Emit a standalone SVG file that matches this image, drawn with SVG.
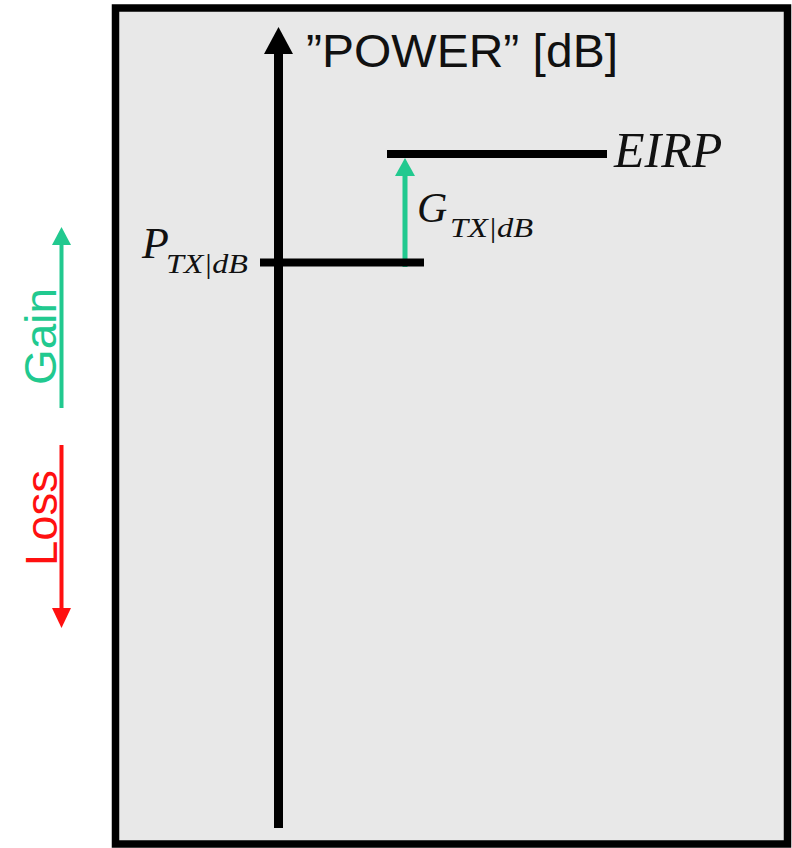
<svg xmlns="http://www.w3.org/2000/svg" width="792" height="848" viewBox="0 0 792 848">
<style>
.ax{font-family:"Liberation Sans",Arial,sans-serif}
.m{font-family:"Liberation Serif","Times New Roman",serif;font-style:italic;fill:#111}
.blk{stroke:#000;stroke-width:8;fill:none}
.gr{stroke:#21c98f}
.rd{stroke:#ff1010}
</style>
<rect width="792" height="848" fill="#fff"/>
<rect id="frame" x="115.5" y="8" width="672" height="836" fill="#e8e8e8" stroke="#000" stroke-width="7.5"/>
<g id="connectors">
<line x1="278.5" y1="828" x2="278.5" y2="50" stroke="#000" stroke-width="9"/>
<path d="M278.5 27 L293 54 L264 54 Z" fill="#000"/>
<line class="gr" x1="405" y1="267" x2="405" y2="172" stroke-width="5"/>
<path d="M405 158 L415 176 L395 176 Z" fill="#21c98f"/>
<line class="gr" x1="61.5" y1="408" x2="61.5" y2="243" stroke-width="4"/>
<path d="M61.5 227 L71 245 L52 245 Z" fill="#21c98f"/>
<line class="rd" x1="61.5" y1="445" x2="61.5" y2="610" stroke-width="4"/>
<path d="M61.5 628 L71 608 L52 608 Z" fill="#ff1010"/>
</g>
<g id="axis-label">
<text class="ax" x="306" y="67" font-size="46" fill="#111" textLength="312" lengthAdjust="spacingAndGlyphs">”POWER” [dB]</text>
</g>
<g id="ptx">
<line x1="260" y1="262.5" x2="424" y2="262.5" class="blk"/>
<text class="m" x="142" y="258" font-size="44">P</text>
<text class="m" x="166" y="273" font-size="28" textLength="82" lengthAdjust="spacingAndGlyphs">TX|dB</text>
</g>
<g id="eirp">
<line x1="387" y1="154" x2="607" y2="154" class="blk"/>
<text class="m" x="614" y="167" font-size="50">EIRP</text>
</g>
<g id="gtx">
<text class="m" x="417" y="222" font-size="42">G</text>
<text class="m" x="450" y="237" font-size="28" textLength="83" lengthAdjust="spacingAndGlyphs">TX|dB</text>
</g>
<g id="gain">
<text class="ax" transform="translate(56,385) rotate(-90)" font-size="45" fill="#21c98f" textLength="97" lengthAdjust="spacingAndGlyphs">Gain</text>
</g>
<g id="loss">
<text class="ax" transform="translate(57,566) rotate(-90)" font-size="45" fill="#ff1010" textLength="96" lengthAdjust="spacingAndGlyphs">Loss</text>
</g>
</svg>
